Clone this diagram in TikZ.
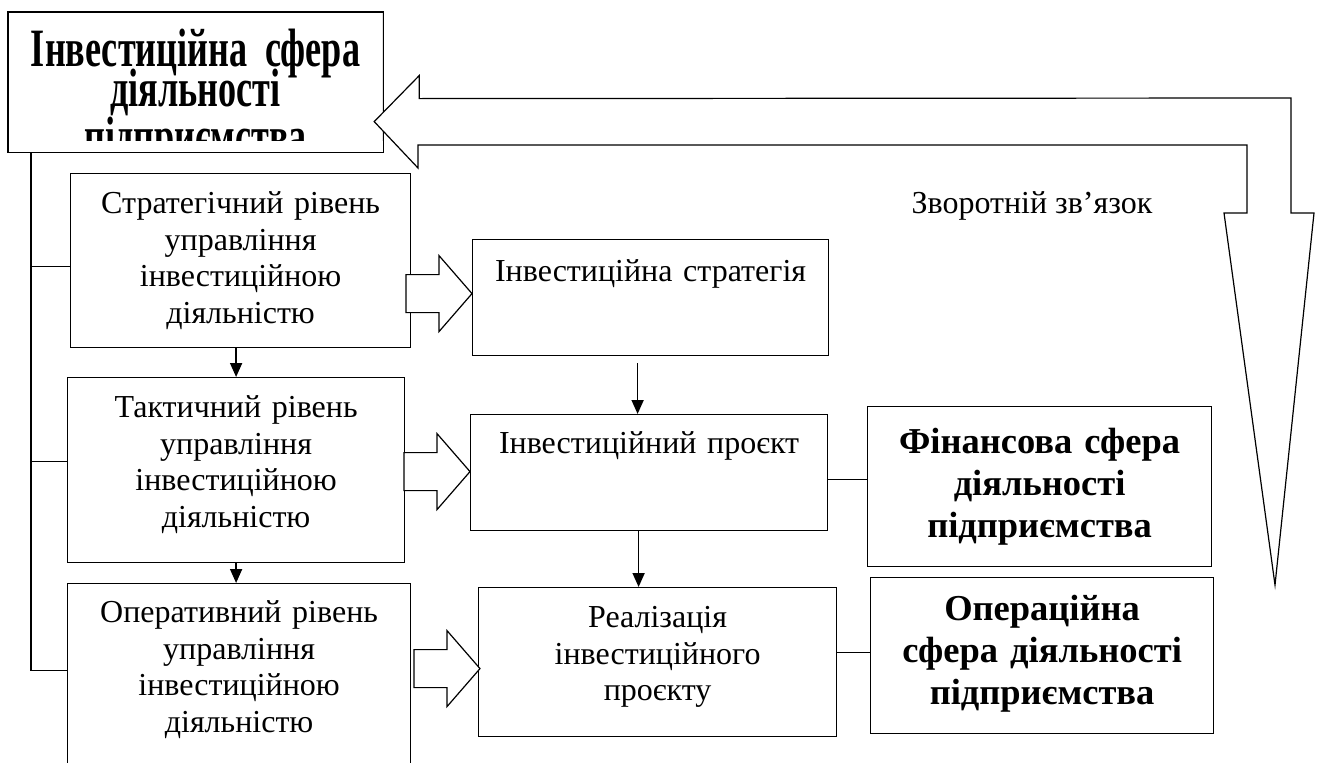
\documentclass[tikz,border=0pt]{standalone}
\usepackage{fontspec}
\setmainfont{Liberation Serif}
\newfontfamily\tallserif{Liberation Serif}[FakeStretch=0.67]
\usetikzlibrary{arrows.meta}

\tikzset{
  box/.style={draw, fill=white, inner sep=0pt, align=center, anchor=north west,
    font=\fontsize{32}{36.6}\selectfont},
  sferabox/.style={box, font=\fontsize{36.5}{42}\selectfont\bfseries},
  hollow/.style={draw, fill=white},
  fatarrow/.pic={\draw[hollow] (0,0) -- (-33,-38) -- (-33,-19) -- (-66,-19)
    -- (-66,19) -- (-33,19) -- (-33,38) -- cycle;}
}

\begin{document}
\begin{tikzpicture}[x=1pt, y=-1pt, >={Triangle[length=14pt,width=12pt]}, line width=1.2pt]
  \useasboundingbox (0,0) rectangle (1320,763);

  % Інвестиційна сфера (нижній рядок обрізаний)
  \begin{scope}
    \clip (8,12) rectangle (382,140);
    \node[box, font=\tallserif\fontsize{54}{40}\selectfont\bfseries,
      text width=374pt, text height=54pt, text depth=85pt] (sphere) at (8,12)
      {\lineskiplimit=-100pt\relax Інвестиційна сфера\\ діяльності\\ підприємства};
  \end{scope}
  \draw (sphere.north west) rectangle (sphere.south east);

  % Рівні управління
  \node[box, text width=340pt, text height=40pt, text depth=134pt] (strat) at (70,173)
    {Стратегічний рівень\\ управління\\ інвестиційною\\ діяльністю};
  \node[box, text width=337pt, text height=40pt, text depth=145pt] (tact) at (67,377)
    {Тактичний рівень\\ управління\\ інвестиційною\\ діяльністю};
  \node[box, text width=343pt, text height=39pt, text depth=161pt] (oper) at (67,583)
    {Оперативний рівень\\ управління\\ інвестиційною\\ діяльністю};

  % Середній стовпчик
  \node[box, text width=356pt, text height=42pt, text depth=74pt] (strategy) at (472,239)
    {Інвестиційна стратегія};
  \node[box, text width=357pt, text height=39pt, text depth=77pt] (project) at (470,414)
    {Інвестиційний проєкт};
  \node[box, text width=358pt, text height=40pt, text depth=109pt] (realiz) at (478,587)
    {Реалізація\\ інвестиційного\\ проєкту};

  % Сфери діяльності
  \node[sferabox, text width=344pt, text height=47pt, text depth=113pt] (finance) at (867,406)
    {Фінансова сфера\\ діяльності\\ підприємства};
  \node[sferabox, text width=343pt, text height=43pt, text depth=113pt] (operat) at (870,577)
    {Операційна\\ сфера діяльності\\ підприємства};

  % Ліва шина
  \coordinate (spine) at ([xshift=23pt]sphere.south west);
  \draw (spine) |- ([yshift=13pt]oper.west);
  \foreach \n/\dy in {strat/-6pt, tact/8.5pt}
    \draw ([yshift=\dy]\n.west) -| (spine);

  % Стрілки вниз
  \draw[->, line width=1.7pt] (strat.south -| tact.north) -- (tact.north);
  \draw[->, line width=1.7pt] (tact.south) -- (tact.south |- oper.north);
  \draw[->, line width=1.7pt, shorten <=7pt] ([xshift=-13pt]strategy.south)
    -- ([xshift=-13pt]strategy.south |- project.north);
  \draw[->, line width=1.7pt] ([xshift=-10.5pt]project.south)
    -- ([xshift=-10.5pt]project.south |- realiz.north);

  % Зв'язки зі сферами
  \draw ([yshift=-7pt]project.east) -- ([yshift=-7pt]project.east -| finance.west);
  \draw ([yshift=10pt]realiz.east) -- ([yshift=10pt]realiz.east -| operat.west);

  % Контурні стрілки
  \pic at ([yshift=4pt]strategy.west) {fatarrow};
  \pic at ([yshift=1pt]project.west) {fatarrow};
  \pic at ([shift={(2pt,-6.5pt)}]realiz.west) {fatarrow};

  % Зворотній зв'язок
  \draw[hollow] ([shift={(-9pt,-39.5pt)}]sphere.east) -- ++(45,-46) -- ++(0,23)
    -- (1291,98) -- (1291,213) -- (1314,213) -- (1275,585) -- (1224,213)
    -- (1247,213) -- (1247,145) -- (418,145) -- (418,168) -- cycle;
  \node[font=\fontsize{32}{36}\selectfont, anchor=base] (fb) at (1032,213) {Зворотній зв’язок};
\end{tikzpicture}
\end{document}
